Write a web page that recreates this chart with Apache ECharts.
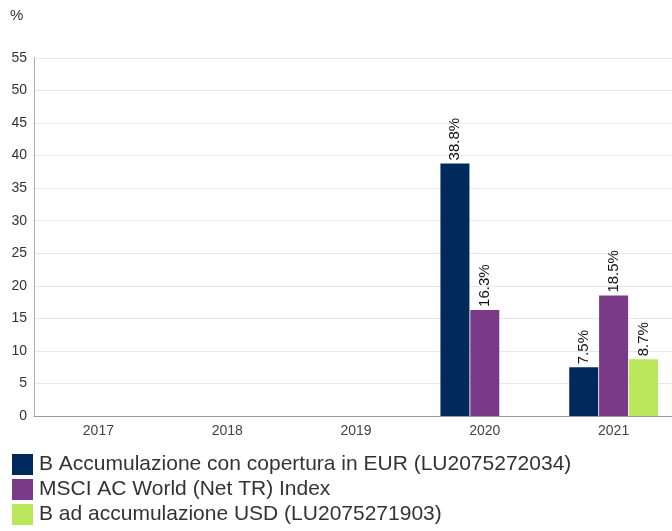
<!DOCTYPE html>
<html>
<head>
<meta charset="utf-8">
<script src="https://cdn.jsdelivr.net/npm/echarts@6/dist/echarts.min.js"></script>
<style>
html,body{margin:0;padding:0;background:#fff;overflow:hidden;}
#chart{width:678px;height:531px;}
</style>
</head>
<body>
<div id="chart"></div>
<script>
const categories = ['2017', '2018', '2019', '2020', '2021'];
const seriesNames = [
  'B Accumulazione con copertura in EUR (LU2075272034)',
  'MSCI AC World (Net TR) Index',
  'B ad accumulazione USD (LU2075271903)'
];
const fundEur = [null, null, null, 38.8, 7.5];
const msciIndex = [null, null, null, 16.3, 18.5];
const fundUsd = [null, null, null, null, 8.7];
const seriesColors = ['#002a5c', '#7b3a88', '#bae65b'];
const yTicks = { min: 0, max: 55, interval: 5 };

const FONT = 'Liberation Sans, Arial, Helvetica, sans-serif';
const chart = echarts.init(document.getElementById('chart'), null, { renderer: 'canvas' });

const values = [fundEur, msciIndex, fundUsd];
const series = values.map((arr, i) => ({
  name: seriesNames[i],
  type: 'bar',
  data: arr,
  barWidth: 29,
  barGap: '3%',
  itemStyle: { color: seriesColors[i] },
  label: {
    show: true,
    position: 'top',
    rotate: 90,
    align: 'left',
    verticalAlign: 'middle',
    distance: 3,
    formatter: p => p.value.toFixed(1) + '%',
    fontSize: 15,
    color: '#111',
    fontFamily: FONT
  }
}));

chart.setOption({
  animation: false,
  backgroundColor: '#fff',
  textStyle: { fontFamily: FONT },
  title: {
    text: '%',
    left: 5,
    top: 3,
    textStyle: { fontSize: 15, fontWeight: 'normal', color: '#333', fontFamily: FONT }
  },
  legend: {
    orient: 'vertical',
    left: 12,
    top: 454,
    height: 100,
    padding: 0,
    icon: 'rect',
    itemWidth: 21,
    itemHeight: 21,
    itemGap: 4,
    textStyle: { fontSize: 21, color: '#333', fontFamily: FONT, padding: [0, 0, 0, 1] },
    data: seriesNames
  },
  grid: { left: 34, right: 0, top: 58, bottom: 115, containLabel: false },
  xAxis: {
    type: 'category',
    data: categories,
    axisLine: { lineStyle: { color: '#999' } },
    axisTick: { show: false },
    axisLabel: { fontSize: 14, color: '#444', margin: 8, fontFamily: FONT }
  },
  yAxis: {
    type: 'value',
    min: yTicks.min,
    max: yTicks.max,
    interval: yTicks.interval,
    axisLine: { show: true, lineStyle: { color: '#aaa' } },
    axisTick: { show: false },
    splitLine: { lineStyle: { color: '#e8e8e8' } },
    axisLabel: { fontSize: 14, color: '#333', margin: 7, fontFamily: FONT }
  },
  series: series
});
</script>
</body>
</html>
